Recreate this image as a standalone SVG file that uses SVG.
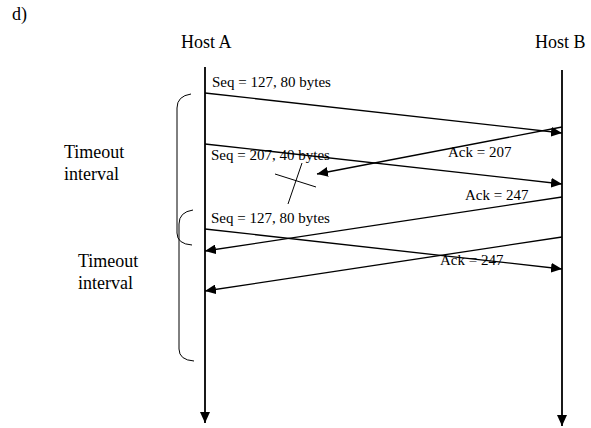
<svg xmlns="http://www.w3.org/2000/svg" width="591" height="428" viewBox="0 0 591 428">
<defs>
<marker id="ah" markerWidth="12" markerHeight="10" refX="11" refY="5" orient="auto" markerUnits="userSpaceOnUse">
<path d="M0,0 L11,5 L0,10 Z" fill="#000"/>
</marker>
<style>
text{font-family:"Liberation Serif","Times New Roman",serif;fill:#000}
.lbl{font-size:15px}
.big{font-size:18px}
.life{stroke:#000;stroke-width:1.8;fill:none}
.msg{stroke:#000;stroke-width:1.3;fill:none}
.thin{stroke:#000;stroke-width:1;fill:none}
</style>
</defs>
<rect width="591" height="428" fill="#fff"/>
<text class="big" x="12" y="20">d)</text>
<g id="hostA">
<text class="big" x="181" y="48">Host A</text>
<line class="life" x1="205" y1="67" x2="205" y2="423" marker-end="url(#ah)"/>
</g>
<g id="hostB">
<text class="big" x="535" y="48">Host B</text>
<line class="life" x1="562" y1="70" x2="562" y2="426" marker-end="url(#ah)"/>
</g>
<g id="timeout1">
<path class="thin" d="M191,94 Q177,96 177,108 L177,233 Q177,244 192,245"/>
<text class="big" x="64" y="158">Timeout</text>
<text class="big" x="64" y="180">interval</text>
</g>
<g id="timeout2">
<path class="thin" d="M193,210 Q179,212 179,224 L179,349 Q179,360 194,361"/>
<text class="big" x="78" y="267">Timeout</text>
<text class="big" x="78" y="289">interval</text>
</g>
<g id="connectors">
<line class="msg" x1="205" y1="93" x2="562" y2="133" marker-end="url(#ah)"/>
<line class="msg" x1="562" y1="127" x2="317" y2="174" marker-end="url(#ah)"/>
<line class="msg" x1="205" y1="144" x2="562" y2="184" marker-end="url(#ah)"/>
<line class="msg" x1="562" y1="197" x2="205" y2="251" marker-end="url(#ah)"/>
<line class="msg" x1="205" y1="229" x2="562" y2="269" marker-end="url(#ah)"/>
<line class="msg" x1="562" y1="237" x2="205" y2="291" marker-end="url(#ah)"/>
</g>
<g id="loss">
<line class="thin" x1="275" y1="174" x2="316" y2="187"/>
<line class="thin" x1="302" y1="163" x2="288" y2="204"/>
</g>
<g id="labels">
<text class="lbl" x="212" y="87">Seq = 127, 80 bytes</text>
<text class="lbl" x="211" y="160">Seq = 207, 40 bytes</text>
<text class="lbl" x="448" y="157">Ack = 207</text>
<text class="lbl" x="465" y="200">Ack = 247</text>
<text class="lbl" x="211" y="223">Seq = 127, 80 bytes</text>
<text class="lbl" x="440" y="265">Ack = 247</text>
</g>
</svg>
